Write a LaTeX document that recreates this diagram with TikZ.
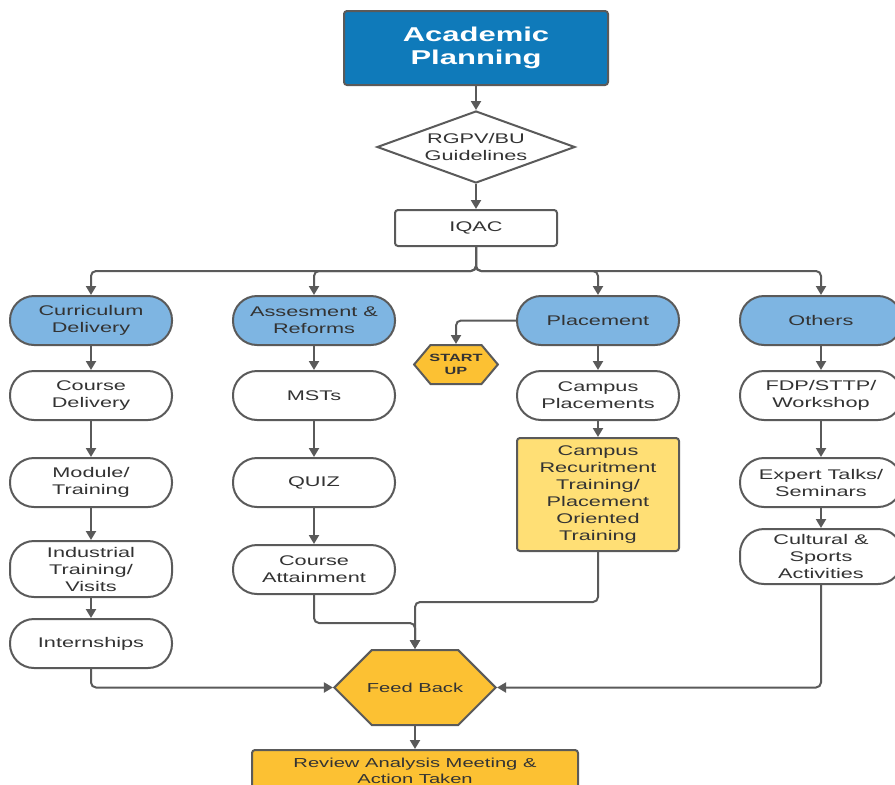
\documentclass[tikz,border=0pt]{standalone}
\usepackage{fontspec}
\setmainfont{Liberation Sans}[FakeStretch=1.55]
\usetikzlibrary{arrows.meta,shapes.geometric,shapes.symbols,positioning}
\definecolor{dblue}{HTML}{0F7ABA}
\definecolor{lblue}{HTML}{7EB5E2}
\definecolor{orng}{HTML}{FCC133}
\definecolor{lyel}{HTML}{FFDF75}
\definecolor{lgray}{HTML}{5A5A5A}
\definecolor{tgray}{HTML}{333333}
\tikzset{
  box/.style={draw=lgray, line width=2pt, rounded corners=24pt, minimum width=162pt,
    minimum height=49pt, align=center, fill=white, text=tgray, inner sep=2pt,
    font=\fontsize{14}{17}\selectfont},
  head/.style={box, fill=lblue},
  sqbox/.style={box, rounded corners=3pt},
  hexa/.style={signal, signal to=east and west, draw=lgray, line width=2pt, fill=orng,
    text=tgray, align=center, inner sep=1pt},
  conn/.style={draw=lgray, line width=2pt, rounded corners=5pt,
    -{Triangle[length=9pt,width=10pt]}}
}
\begin{document}
\begin{tikzpicture}[x=1pt,y=-1pt]
\useasboundingbox (0,0) rectangle (895,785);
% top
\node[sqbox, fill=dblue, minimum width=264pt, minimum height=74pt, text=white,
  font=\fontsize{20}{23}\selectfont\bfseries] (ap) at (476,48) {Academic\\Planning};
\node[diamond, aspect=2.75, draw=lgray, line width=2pt, fill=white, text=tgray, align=center,
  minimum width=198pt, minimum height=72pt, inner sep=1pt,
  font=\fontsize{14}{17}\selectfont] (dia) at (476,147) {RGPV/BU\\Guidelines};
\node[sqbox, minimum height=36pt] (iqac) at (476,228) {IQAC};
\coordinate (bus) at (476,271);
% column 1
\node[head] (cur) at (91,320.5) {Curriculum\\Delivery};
\node[box] (cdel) at (91,395.5) {Course\\Delivery};
\node[box] (mod) at (91,482.5) {Module/\\Training};
\node[box, minimum height=56pt] (ind) at (91,569) {Industrial\\Training/\\Visits};
\node[box] (intr) at (91,643.5) {Internships};
% column 2
\node[head] (ass) at (314,320.5) {Assesment \&\\Reforms};
\node[box] (mst) at (314,395.5) {MSTs};
\node[box] (quiz) at (314,482.5) {QUIZ};
\node[box] (catt) at (314,569.5) {Course\\Attainment};
% column 3
\node[head] (plc) at (598,320.5) {Placement};
\node[hexa, signal pointer angle=100, minimum height=39pt, inner xsep=-1pt,
  font=\fontsize{10.5}{13}\selectfont\bfseries] (su) at (456,364.5) {START\\UP};
\node[box] (cpl) at (598,395.5) {Campus\\Placements};
\node[sqbox, fill=lyel, minimum height=113pt] (crt) at (598,494.5) {Campus\\Recuritment\\Training/\\Placement\\Oriented\\Training};
% column 4
\node[head] (oth) at (821,320.5) {Others};
\node[box] (fdp) at (821,395.5) {FDP/STTP/\\Workshop};
\node[box] (exp) at (821,482.5) {Expert Talks/\\Seminars};
\node[box, minimum height=55pt] (cult) at (821,556.5) {Cultural \&\\Sports\\Activities};
% bottom
\node[hexa, signal pointer angle=90, minimum height=75pt, inner xsep=-5pt,
  font=\fontsize{13}{16}\selectfont] (fb) at (415,687.5) {Feed Back};
\node[sqbox, fill=orng, anchor=north, minimum width=326pt, minimum height=50pt,
  font=\fontsize{13}{16}\selectfont, inner ysep=8pt] (rev) at (415,749)
  {Review Analysis Meeting \&\\Action Taken\\[12pt]};
% connectors
\draw[conn] (ap.south) -- (dia.north);
\draw[conn] (dia.south) -- (iqac.north);
\draw[conn] (iqac.south) -- (bus) -| (cur.north);
\draw[conn] (iqac.south) -- (bus) -| (ass.north);
\draw[conn] (iqac.south) -- (bus) -| (plc.north);
\draw[conn] (iqac.south) -- (bus) -| (oth.north);
\draw[conn] (cur) -- (cdel);
\draw[conn] (cdel) -- (mod);
\draw[conn] (mod) -- (ind);
\draw[conn] (ind) -- (intr);
\draw[conn] (ass) -- (mst);
\draw[conn] (mst) -- (quiz);
\draw[conn] (quiz) -- (catt);
\draw[conn] (plc.west) -| (su.north);
\draw[conn] (plc) -- (cpl);
\draw[conn] (cpl) -- (crt);
\draw[conn] (oth) -- (fdp);
\draw[conn] (fdp) -- (exp);
\draw[conn] (exp) -- (cult);
\draw[conn] (intr.south) |- (fb.west);
\draw[conn] (catt.south) -- ++(0,28) -| (fb.north);
\draw[conn] (crt.south) -- ++(0,50) -| (fb.north);
\draw[conn] (cult.south) |- (fb.east);
\draw[conn] (fb.south) -- (rev.north);
\end{tikzpicture}
\end{document}
